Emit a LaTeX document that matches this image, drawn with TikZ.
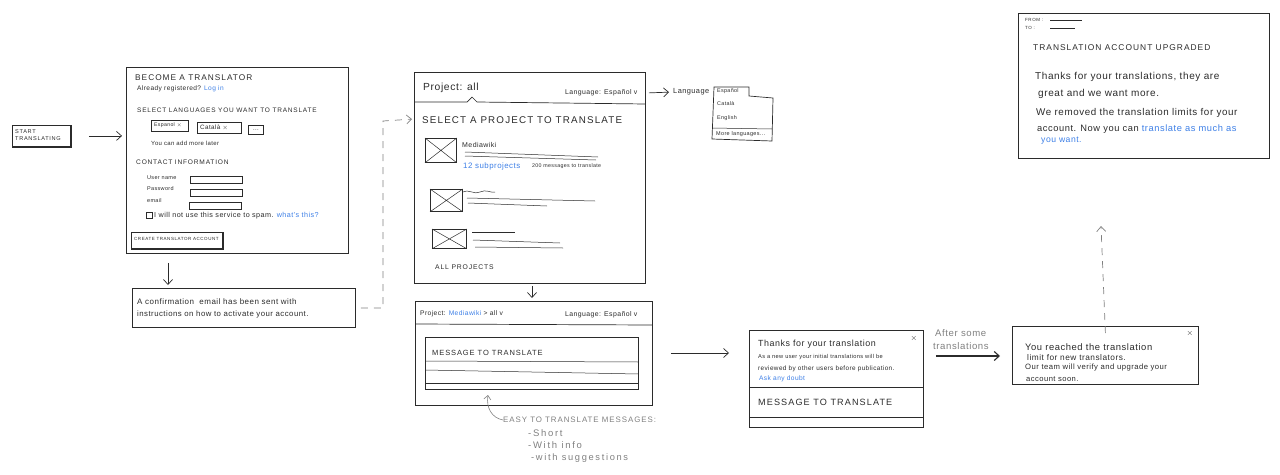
\documentclass[tikz,border=0pt]{standalone}
\usepackage{fontspec}
\setmainfont{Liberation Sans}[LetterSpace=6]
\newfontfamily\capsf{Liberation Sans}[LetterSpace=12]
\newfontfamily\notef{Liberation Sans}[LetterSpace=18]
\usetikzlibrary{arrows.meta}
\definecolor{inkc}{HTML}{2B2B2B}
\definecolor{linkc}{HTML}{3D7FE6}
\definecolor{notec}{HTML}{808080}
\begin{document}
\begin{tikzpicture}[x=1pt,y=-1pt,
  box/.style={draw=inkc, line width=0.8pt, inner sep=0pt, anchor=north west},
  thin/.style={draw=inkc, line width=0.5pt},
  lbl/.style={anchor=west, inner sep=0pt, text=inkc},
  fs/.style={font=\fontsize{#1}{#1}\selectfont},
  cs/.style={font=\capsf\fontsize{#1}{#1}\selectfont},
  ns/.style={font=\notef\fontsize{#1}{#1}\selectfont},
  arr/.style={draw=inkc, line width=0.7pt, -{Straight Barb[length=5pt,width=9pt]}},
  darr/.style={draw=notec, line width=0.7pt, dash pattern=on 7pt off 6pt, -{Straight Barb[length=5pt,width=9pt]}},
  shade/.style={draw=inkc, line width=1.8pt}
]
\useasboundingbox (0,0) rectangle (1280,474);

% ---------- start button ----------
\node[box, minimum width=58pt, minimum height=21pt] (start) at (12,125) {};
\draw[shade] (start.north east) -- (start.south east) -- (start.south west);
\node[lbl, font=\capsf\fontsize{5.6}{7}\selectfont, align=left] (starttxt) at (15,135.5) {START\\TRANSLATING};

% ---------- become a translator form ----------
\node[box, minimum width=222pt, minimum height=186pt] (form) at (126,67) {};
\draw[arr, shorten <=18pt, shorten >=4pt] (start.east) -- (start.east -| form.west);
\node[lbl, cs=8.3] (t1) at (135,78) {BECOME A TRANSLATOR};
\node[lbl, fs=6.6] (t2) at (137,89) {Already registered? \textcolor{linkc}{Log in}};
\node[lbl, cs=6.5] (t3) at (137,110) {SELECT LANGUAGES YOU WANT TO TRANSLATE};
\node[box, minimum width=37pt, minimum height=11pt] (es) at (151,120) {};
\node[lbl, fs=5.2] (estx) at (154,125.5) {Espanol $\times$};
\node[box, minimum width=44pt, minimum height=11pt] (ca) at (197,122) {};
\node[lbl, fs=6.3] (catx) at (200,127.5) {Català $\times$};
\node[box, minimum width=15pt, minimum height=9pt] (more) at (248,125) {};
\node[fs=6, inner sep=0pt, text=inkc] (moretx) at (more.center) {...};
\node[lbl, fs=6] (t4) at (151,143) {You can add more later};
\node[lbl, cs=6.6] (t5) at (136,162) {CONTACT INFORMATION};
\node[lbl, fs=5.5] (u1) at (147,178) {User name};
\node[box, minimum width=52pt, minimum height=7pt] (fu) at (190,175.5) {};
\node[lbl, fs=5.5] (u2) at (147,189) {Password};
\node[box, minimum width=52pt, minimum height=7pt] (fp) at (190,189) {};
\node[lbl, fs=5.5] (u3) at (147,201) {email};
\node[box, minimum width=52pt, minimum height=7pt] (fe) at (189,202) {};
\node[box, minimum width=6pt, minimum height=6pt] (chk) at (146,212) {};
\node[lbl, fs=7.2] (t6) at (154,216) {I will not use this service to spam. \textcolor{linkc}{what's this?}};
\node[box, minimum width=91pt, minimum height=16pt] (create) at (131,232) {};
\draw[shade] (create.north east) -- (create.south east) -- (create.south west);
\node[lbl, cs=4.5] (createtx) at (134,239) {CREATE TRANSLATOR ACCOUNT};

% ---------- confirmation ----------
\node[box, minimum width=223pt, minimum height=39pt] (confirm) at (132,288) {};
\draw[arr, shorten <=9pt, shorten >=3pt] ([xshift=42pt]form.south west) -- ([xshift=36pt]confirm.north west);
\node[lbl, fs=8] (c1) at (137,302) {A confirmation \ email has been sent with};
\node[lbl, fs=7.8] (c2) at (137,314) {instructions on how to activate your account.};

% ---------- project: all window ----------
\node[box, minimum width=231pt, minimum height=211pt] (proj) at (414,72) {};
\draw[darr, shorten <=5pt, shorten >=2pt] (confirm.east) -| (383,121) -- (proj.west |- 0,119);
\draw[thin, line width=0.7pt] (proj.west |- 0,102) -- (467,102) -- (472,97) -- (477,102) -- (proj.east |- 0,104);
\node[lbl, fs=10.3] (pall) at (423,88) {Project: all};
\node[lbl, fs=6.9] (plang) at (565,93) {Language: Español v};
\node[lbl, cs=9.8] (psel) at (422,120) {SELECT A PROJECT TO TRANSLATE};
\node[box, minimum width=31pt, minimum height=24pt] (img1) at (425,138) {};
\draw[thin] (img1.north west) -- (img1.south east) (img1.north east) -- (img1.south west);
\node[lbl, fs=7] (mw) at (462,145) {Mediawiki};
\draw[thin] (465,152) -- (598,157);
\draw[thin] (465,156) -- (596,160);
\node[lbl, fs=7.9, text=linkc] (sub) at (463,166) {12 subprojects};
\node[lbl, fs=5.3] (msgs) at (532,166) {200 messages to translate};
\node[box, minimum width=32pt, minimum height=22pt] (img2) at (430,189) {};
\draw[thin] (img2.north west) -- (img2.south east) (img2.north east) -- (img2.south west);
\draw[thin] (463,192) .. controls (470,189) and (474,195) .. (480,192) .. controls (486,189) and (490,193) .. (495,192);
\draw[thin] (467,198) -- (595,201);
\draw[thin] (468,203) -- (547,206);
\node[box, minimum width=34pt, minimum height=19pt] (img3) at (432,229) {};
\draw[thin] (img3.north west) -- (img3.south east) (img3.north east) -- (img3.south west);
\draw[thin] (472,232) -- (515,232);
\draw[thin] (473,240) -- (560,243);
\draw[thin] (475,247) -- (563,248);
\node[lbl, cs=6.8] (allp) at (435,267) {ALL PROJECTS};

% ---------- language dropdown ----------
\node[lbl, fs=7.4] (langlbl) at (673,92) {Language};
\draw[arr, shorten <=3pt, shorten >=4pt] (proj.east |- 0,93) -- (langlbl.west);
\draw[thin, line width=0.7pt] (714,87) -- (749,87) -- (749,96) -- (773,98) -- (772,141) -- (712,139) -- cycle;
\draw[thin] (712,128) -- (772,129);
\node[lbl, fs=5.4] (d1) at (717,91) {Español};
\node[lbl, fs=5.4] (d2) at (717,104) {Català};
\node[lbl, fs=5.4] (d3) at (717,118) {English};
\node[lbl, fs=5.5] (d4) at (716,134) {More languages...};

% ---------- project: mediawiki window ----------
\node[box, minimum width=237pt, minimum height=104pt] (mwin) at (415,301) {};
\draw[arr, shorten <=2pt, shorten >=3pt] (proj.south -| 532,0) -- (mwin.north -| 532,0);
\draw[thin, line width=0.7pt] (mwin.west |- 0,324) -- (mwin.east |- 0,325);
\node[lbl, fs=6.7] (mwproj) at (420,314) {Project: \textcolor{linkc}{Mediawiki} > all v};
\node[lbl, fs=6.9] (mwlang) at (565,315) {Language: Español v};
\node[box, minimum width=213pt, minimum height=52pt] (msgbox) at (425,337) {};
\draw[thin] (msgbox.west |- 0,361) -- (msgbox.east |- 0,362);
\draw[thin] (msgbox.west |- 0,370) -- (msgbox.east |- 0,374);
\draw[thin] (msgbox.west |- 0,383) -- (msgbox.east |- 0,383);
\node[lbl, cs=7.5] (msgtx) at (432,353) {MESSAGE TO TRANSLATE};

% easy to translate note
\node[lbl, cs=7.9, text=notec] (easy) at (503,420) {EASY TO TRANSLATE MESSAGES:};
\node[lbl, ns=9.5, text=notec] (e1) at (528,433) {-Short};
\node[lbl, ns=9.5, text=notec] (e2) at (528,445) {-With info};
\node[lbl, ns=9.3, text=notec] (e3) at (531,458) {-with suggestions};
\coordinate (easytip) at (488,395);
\draw[draw=notec, line width=0.6pt, -{Straight Barb[length=4pt,width=7pt]}] (easy.west) .. controls (492,418) and (486,408) .. (easytip);

% ---------- thanks box ----------
\node[box, minimum width=174pt, minimum height=97pt] (thanks) at (749,330) {};
\draw[arr, shorten <=18pt, shorten >=20pt] (mwin.east |- 0,353) -- (thanks.west |- 0,353);
\node[fs=8, inner sep=0pt, text=inkc] (x1) at (914,338) {$\times$};
\node[lbl, fs=8.9] (th1) at (758,344) {Thanks for your translation};
\node[lbl, fs=5.7] (th2) at (758,357) {As a new user your initial translations will be};
\node[lbl, fs=6.4] (th3) at (758,369) {reviewed by other users before publication.};
\node[lbl, fs=6.6, text=linkc] (th4) at (759,379) {Ask any doubt};
\draw[thin, line width=0.7pt] (thanks.west |- 0,387) -- (thanks.east |- 0,387);
\node[lbl, cs=9.1] (th5) at (758,402) {MESSAGE TO TRANSLATE};
\draw[thin] (thanks.west |- 0,417) -- (thanks.east |- 0,417);

% ---------- you reached box ----------
\node[box, minimum width=186pt, minimum height=58pt] (you) at (1012,326) {};
\node[lbl, fs=9.6, text=notec] (after1) at (935,333) {After some};
\node[lbl, fs=9.6, text=notec] (after2) at (933,346) {translations};
\draw[arr, line width=1.1pt, shorten <=12pt, shorten >=12pt] (thanks.east |- 0,356) -- (you.west |- 0,356);
\node[fs=8, inner sep=0pt, text=inkc] (x2) at (1190,333) {$\times$};
\node[lbl, fs=9.4] (y1) at (1025,347) {You reached the translation};
\node[lbl, fs=8.3] (y2) at (1027,358) {limit for new translators.};
\node[lbl, fs=7.7] (y3) at (1025,368) {Our team will verify and upgrade your};
\node[lbl, fs=7.6] (y4) at (1026,379) {account soon.};

% ---------- upgraded box ----------
\node[box, minimum width=251pt, minimum height=145pt] (upg) at (1018,13) {};
\coordinate (uptip) at (1101,226);
\draw[darr] ([yshift=-7pt]you.north) -- (uptip);
\node[lbl, cs=4.5] (from) at (1025,20) {FROM :};
\draw[thin] (1050,20) -- (1082,20);
\node[lbl, cs=4.5] (to) at (1025,28) {TO :};
\draw[thin] (1050,28) -- (1075,28);
\node[lbl, cs=8.4] (up1) at (1033,48) {TRANSLATION ACCOUNT UPGRADED};
\node[lbl, fs=10] (up2) at (1035,77) {Thanks for your translations, they are};
\node[lbl, fs=10] (up3) at (1038,94) {great and we want more.};
\node[lbl, fs=9.8] (up4) at (1036,113) {We removed the translation limits for your};
\node[lbl, fs=9.3] (up5) at (1037,129) {account. Now you can \textcolor{linkc}{translate as much as}};
\node[lbl, fs=8.6, text=linkc] (up6) at (1041,141) {you want.};
\end{tikzpicture}
\end{document}
